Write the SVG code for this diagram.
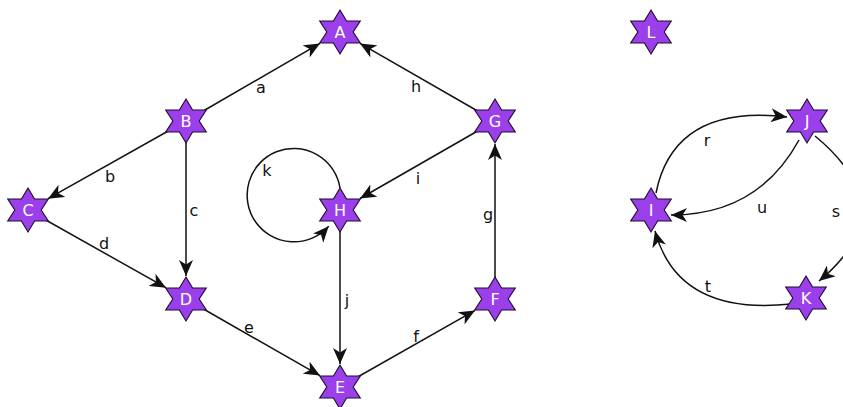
<svg xmlns="http://www.w3.org/2000/svg" width="843" height="407" viewBox="0 0 843 407">
<style>
.node use{fill:#9b3fea;stroke:#1e0b30;stroke-width:1.1}
.node text{fill:#fff;font-family:"DejaVu Sans","Liberation Sans",sans-serif;font-size:16px;text-anchor:middle;dominant-baseline:central}
.edges path,.edges line{stroke:#111;stroke-width:1.5;fill:none;marker-end:url(#arr)}
.lbl{font-family:"DejaVu Sans","Liberation Sans",sans-serif;font-size:16px;fill:#111;text-anchor:middle;dominant-baseline:central}
</style>
<defs>
<marker id="arr" markerWidth="16" markerHeight="14" refX="16" refY="7" orient="auto" markerUnits="userSpaceOnUse" viewBox="0 0 16 14"><path d="M16,7 L0,0 L4.5,7 L0,14 z" fill="#111"/></marker>
<polygon id="star" points="0,-22 6.6,-11 20.3,-11 13.2,0 20.3,11 6.6,11 0,22 -6.6,11 -20.3,11 -13.2,0 -20.3,-11 -6.6,-11"/>
</defs>
<g class="edges">
<line x1="186" y1="121" x2="320" y2="43.4"/>
<line x1="186" y1="121" x2="48" y2="198.7"/>
<line x1="186" y1="121" x2="186" y2="276"/>
<line x1="28" y1="210" x2="166" y2="287.7"/>
<line x1="186" y1="299" x2="320" y2="375.6"/>
<line x1="340" y1="387" x2="475" y2="310.4"/>
<line x1="495" y1="299" x2="495" y2="144"/>
<line x1="495" y1="121" x2="360" y2="43.4"/>
<line x1="495" y1="121" x2="360" y2="198.5"/>
<line x1="340" y1="210" x2="340" y2="364"/>
<path d="M340,188 A46.7,46.7 0 1 0 328.7,226.2"/>
<path d="M656,193 Q674,104 787,117"/>
<path d="M799,140 Q758,215 671,215"/>
<path d="M815,136 Q905,210 819,281"/>
<path d="M791,304 Q678,316 655,231"/>
</g>
<g class="labels">
<text class="lbl" x="261" y="87">a</text>
<text class="lbl" x="110" y="176">b</text>
<text class="lbl" x="194" y="210">c</text>
<text class="lbl" x="104" y="243">d</text>
<text class="lbl" x="249" y="327">e</text>
<text class="lbl" x="416" y="336">f</text>
<text class="lbl" x="488" y="214">g</text>
<text class="lbl" x="416" y="86">h</text>
<text class="lbl" x="418" y="178">i</text>
<text class="lbl" x="347" y="300">j</text>
<text class="lbl" x="267" y="170">k</text>
<text class="lbl" x="707" y="140">r</text>
<text class="lbl" x="762" y="207">u</text>
<text class="lbl" x="836" y="211">s</text>
<text class="lbl" x="708" y="286">t</text>
</g>
<g id="node-A" class="node"><use href="#star" x="340" y="32"/><text x="340" y="32">A</text></g>
<g id="node-B" class="node"><use href="#star" x="186" y="121"/><text x="186" y="121">B</text></g>
<g id="node-C" class="node"><use href="#star" x="28" y="210"/><text x="28" y="210">C</text></g>
<g id="node-D" class="node"><use href="#star" x="186" y="299"/><text x="186" y="299">D</text></g>
<g id="node-E" class="node"><use href="#star" x="340" y="387"/><text x="340" y="387">E</text></g>
<g id="node-F" class="node"><use href="#star" x="495" y="299"/><text x="495" y="299">F</text></g>
<g id="node-G" class="node"><use href="#star" x="495" y="121"/><text x="495" y="121">G</text></g>
<g id="node-H" class="node"><use href="#star" x="340" y="210"/><text x="340" y="210">H</text></g>
<g id="node-L" class="node"><use href="#star" x="651" y="32"/><text x="651" y="32">L</text></g>
<g id="node-J" class="node"><use href="#star" x="807" y="121"/><text x="807" y="121">J</text></g>
<g id="node-I" class="node"><use href="#star" x="651" y="210"/><text x="651" y="210">I</text></g>
<g id="node-K" class="node"><use href="#star" x="806" y="298"/><text x="806" y="298">K</text></g>
</svg>
